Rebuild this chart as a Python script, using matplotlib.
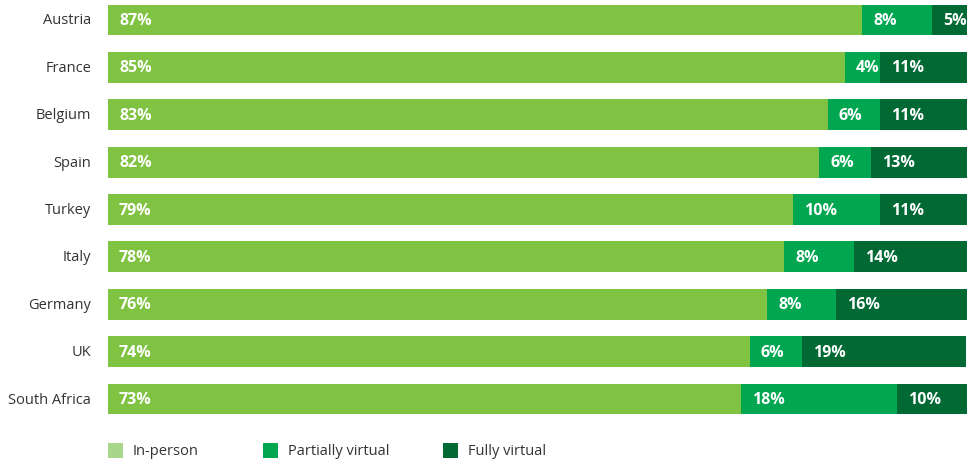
import matplotlib.pyplot as plt
from matplotlib.patches import Rectangle

countries = ["Austria", "France", "Belgium", "Spain", "Turkey", "Italy",
             "Germany", "UK", "South Africa"]
in_person = [87, 85, 83, 82, 79, 78, 76, 74, 73]
partially_virtual = [8, 4, 6, 6, 10, 8, 8, 6, 18]
fully_virtual = [5, 11, 11, 13, 11, 14, 16, 19, 10]
series_names = ["In-person", "Partially virtual", "Fully virtual"]

bar_colors = ["#80c241", "#00a650", "#006934"]
legend_colors = ["#a8d68a", "#00a650", "#006934"]

plt.rcParams['font.family'] = ['Open Sans', 'DejaVu Sans']

W, H = 967, 464
fig = plt.figure(figsize=(W / 100, H / 100), dpi=100)

# axes reach a little past the right edge, so the last segment is cut off
ax_left, ax_right = 108, 975
ax_top, ax_bottom = 1, 421
ax = fig.add_axes([ax_left / W, 1 - ax_bottom / H,
                   (ax_right - ax_left) / W, (ax_bottom - ax_top) / H])
ax.set_xlim(0, 100)
ax.set_ylim(8.443, -0.422)
ax.axis("off")

ypos = list(range(len(countries)))
left = [0] * len(countries)
for vals, color in zip([in_person, partially_virtual, fully_virtual], bar_colors):
    ax.barh(ypos, vals, left=left, height=0.65, color=color, edgecolor="none")
    for y, v, l in zip(ypos, vals, left):
        ax.annotate(f"{v}%", (l, y), xytext=(8, 0), textcoords="offset points",
                    ha="left", va="center", color="white", fontsize=11.5,
                    fontweight="bold", fontstretch="normal")
    left = [l + v for l, v in zip(left, vals)]

for y, name in zip(ypos, countries):
    ax.annotate(name, (0, y), xytext=(-12, 0), textcoords="offset points",
                ha="right", va="center", color="#333333", fontsize=10.5)

# legend row along the bottom
legend_x = [108, 263, 443]
for x, name, color in zip(legend_x, series_names, legend_colors):
    fig.add_artist(Rectangle((x / W, 1 - 459 / H), 15 / W, 15 / H,
                             transform=fig.transFigure, color=color, lw=0))
    fig.text((x + 25) / W, 1 - 452 / H, name, ha="left", va="center",
             color="#333333", fontsize=10.5)

fig.savefig("out.png", dpi=100)
